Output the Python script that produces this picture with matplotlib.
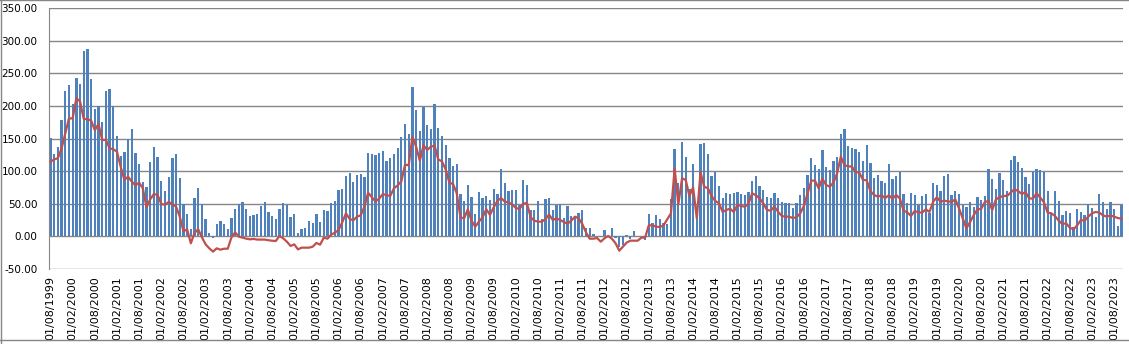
import numpy as np
import pandas as pd
import matplotlib
matplotlib.use("Agg")
import matplotlib.pyplot as plt
from matplotlib.lines import Line2D

plt.rcParams["axes.unicode_minus"] = False

# monthly series, 08/1999 .. 10/2023
months = pd.date_range("1999-08-01", "2023-10-01", freq="MS")
labels = [d.strftime("%d/%m/%Y") for d in months]

bars = [
    150.5, 126, 137, 178.6, 223, 232, 203, 243, 234, 285,
    287.6, 241.6, 195.5, 199.6, 175.5, 223.6, 226, 199.6, 154, 123,
    129.5, 150, 164.8, 128, 111, 83.4, 75.7, 114, 137, 121.8,
    85, 69.6, 91, 120, 126, 89.6, 49, 34.3, 11.3, 58.8,
    74.2, 49, 26.6, 5.1, -2, 19, 23.5, 19, 11, 28,
    42, 49, 52.7, 42, 31.2, 32.8, 34.3, 46.6, 52.7, 37.4,
    31.2, 26.6, 42, 51.2, 48, 29.7, 34.3, 5.1, 11.3, 12.8,
    23.5, 20.5, 34.3, 22, 40.4, 39, 51.2, 54.3, 71, 72.7,
    92.6, 97.2, 83.4, 94.2, 95.7, 91, 128, 126.4, 124.9, 128,
    131, 115.7, 120, 126.4, 135.6, 152.5, 172.5, 157, 229, 194,
    161.7, 198.6, 171, 164.8, 203, 166.3, 154, 140, 120, 108,
    111, 65, 54.3, 78.8, 60.4, 34.3, 68, 58.8, 62, 55.8,
    72.7, 65, 103.4, 81.9, 69.6, 71, 71, 48, 86.5, 78.8,
    40.4, 40.4, 54.3, 26.6, 57.3, 58.8, 40.4, 48, 49.6, 28,
    46.6, 31.2, 29.7, 35.8, 40.4, 13, 12.8, 3.6, 0.5, -1,
    9.7, 1, 12.8, -3, -17, -14, 1.5, -3.5, 8, 0.5,
    0.5, -5, 34.3, 20.5, 32.8, 26.6, 20.5, 19, 57.3, 134,
    81.9, 144.8, 121.8, 72.7, 111, 35, 141.8, 143.3, 126.4, 92.6,
    98.8, 77.3, 58.8, 66.5, 65, 66.5, 68, 65, 63.5, 68,
    85, 92.6, 77.3, 71, 60.4, 58.8, 66.5, 58.8, 52.7, 51.2,
    51.2, 43.5, 51.2, 63.5, 74.2, 94.2, 120.3, 109.5, 103.4, 132.6,
    106.5, 101.8, 115.7, 121.8, 157, 164.8, 138.7, 135.6, 134, 129.5,
    115.7, 140.2, 112.6, 89.6, 94.2, 85, 81.9, 111, 88, 92.6,
    98.8, 65, 51.2, 66.5, 63.5, 48, 62, 65, 36, 81.9,
    78.8, 69.6, 92.6, 95.7, 63.5, 69.6, 65, 48, 45, 52.7,
    45, 60.4, 55.8, 62, 103.4, 88, 72.7, 97.2, 86.5, 69.6,
    117.2, 123.3, 114, 105, 91, 80.3, 98.8, 103.4, 101.8, 98.8,
    69.6, 36, 69.6, 54.3, 32.8, 39, 35.8, 14, 42, 37.4,
    32.8, 49.6, 43.5, 29.7, 65, 52.7, 42, 52.7, 42, 15.9,
    48,
]

line = [
    114.6, 118, 120, 135, 158, 181, 181, 212, 207, 180,
    180, 177.6, 163, 172.5, 148, 148, 135, 133.6, 130, 107,
    86.5, 91.6, 84, 78.3, 82.4, 73.7, 44.5, 56.8, 65, 63.5,
    49.6, 48.6, 52.7, 49.6, 45.5, 30.2, 7.7, 10.7, -10.7, 5.6,
    10.7, -1.5, -12.3, -18.4, -23.5, -18.4, -20.5, -19, -19, -1.5,
    6, -0.5, -2, -3.6, -4.6, -4, -5, -5, -5, -6,
    -6.7, -7.2, 0.5, -3, -8.2, -14.8, -12.3, -20, -17.4, -17.4,
    -17.4, -15.9, -10.2, -12.8, -2, -3.6, 2.6, 5.6, 9.7, 21.5,
    35.3, 26.6, 24.6, 30.2, 32.2, 45.5, 67, 59.9, 53.7, 57.8,
    65, 63, 62, 73.7, 78.3, 84.4, 110, 109, 153, 137.7,
    116, 139.7, 132.6, 137.7, 139, 118, 115, 102.9, 82.4, 80.4,
    66, 29.2, 27.6, 41.5, 24, 14.8, 22.5, 29.2, 41.5, 32.8,
    44.5, 54.3, 58.8, 53.2, 52.2, 49, 43.5, 42, 50.2, 51.2,
    29.2, 24, 22.5, 22.5, 26.1, 33.3, 25, 27.6, 25, 22,
    19.4, 24, 30.2, 27.6, 18.9, 6, -3.6, -3.6, -2.6, -8.2,
    -3, 0.5, -3.6, -10.7, -22, -15.9, -9.7, -6.7, -6.7, -6.7,
    -2, -2, 16.9, 16.9, 14.8, 14.3, 16.9, 26.1, 35.3, 104.4,
    49, 89, 86.5, 62, 75.2, 27.6, 98.3, 76.3, 73.7, 62,
    54.3, 50.7, 37.4, 40.4, 42.5, 37.4, 48, 46.6, 45.5, 50.2,
    66, 63, 58.3, 50.7, 40.4, 39.4, 45.5, 37.9, 31.2, 30.2,
    30.2, 28.1, 29.2, 35.3, 46.6, 66, 85.5, 85.5, 73.7, 88.5,
    78.8, 76.3, 82.4, 96.7, 122.3, 109, 107.5, 107, 98.8, 97.8,
    86.5, 86, 69.6, 63.5, 60.9, 63, 58.8, 63, 57.8, 63.5,
    57.8, 39.4, 36.8, 31.2, 38.9, 36.8, 36.3, 41.5, 37.4, 53.2,
    59.9, 53.2, 54.8, 53.7, 52.7, 56.8, 43, 27.6, 12.3, 22,
    32.8, 41.5, 42, 52.7, 54.3, 40.4, 56.8, 59.9, 62, 62,
    67, 72.2, 69.6, 65, 68, 58.3, 57.8, 66, 59.4, 52.2,
    36.3, 35.3, 31.2, 24, 18.9, 20, 13.3, 10.7, 16.9, 25,
    24, 30.2, 35.3, 37.4, 36.3, 32.2, 30.2, 32.2, 30.2, 28.1,
    27.1,
]

yticks = np.arange(-50, 351, 50)

fig = plt.figure(figsize=(11.29, 3.44), dpi=100)
ax = fig.add_axes([0.0431, 0.2183, 0.9519, 0.7576])

x = np.arange(len(bars))
ax.bar(x, bars, width=0.62, color="#4F81BD", zorder=2)
ax.plot(x, line, color="#C0504D", linewidth=1.6, zorder=3)

ax.set_xlim(-0.5, len(bars) - 0.5)
ax.set_ylim(-50, 350)
ax.set_yticks(yticks)
ax.set_yticklabels([f"{v:.2f}" for v in yticks], fontsize=7.5)
ax.set_xticks(x[::6])
ax.set_xticklabels(labels[::6], rotation=90, fontsize=8)
ax.tick_params(axis="y", length=0, pad=8)
ax.tick_params(axis="x", length=0, pad=5)

ax.grid(axis="y", color="#868686", linewidth=1)
ax.set_axisbelow(True)
for s in ["top", "right", "bottom"]:
    ax.spines[s].set_visible(False)
ax.spines["left"].set_color("#868686")

# chart border
fig.add_artist(Line2D([0, 1], [0.999, 0.999], transform=fig.transFigure, color="#868686", lw=1))
fig.add_artist(Line2D([0.0005, 0.0005], [0, 1], transform=fig.transFigure, color="#868686", lw=1))
fig.add_artist(Line2D([0, 1], [0.012, 0.012], transform=fig.transFigure, color="#868686", lw=1))

fig.savefig("out.png", dpi=100)
